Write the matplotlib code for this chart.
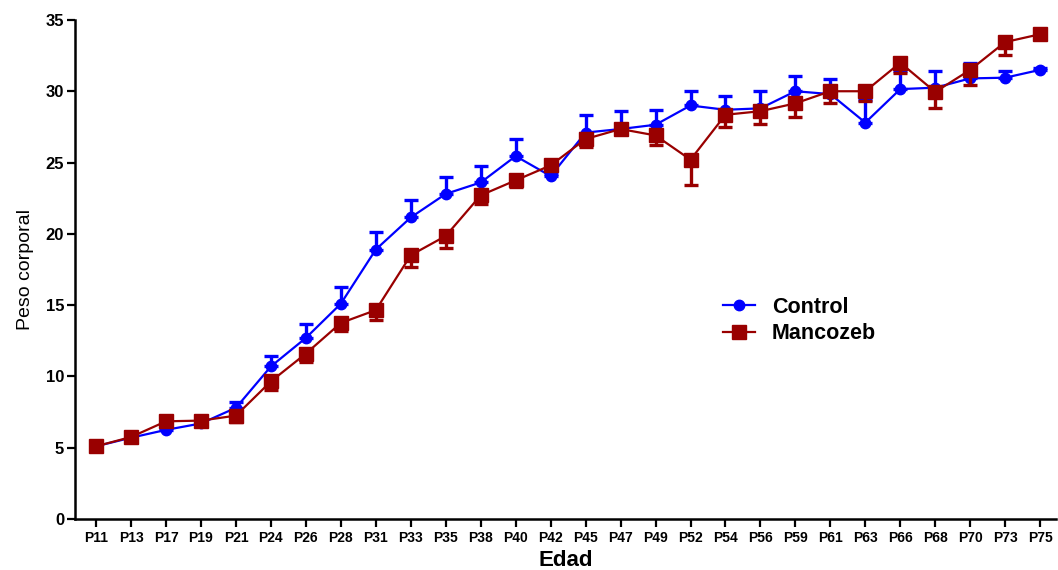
import matplotlib
matplotlib.use("Agg")
import matplotlib.pyplot as plt
from matplotlib.lines import Line2D
import numpy as np

plt.rcParams["font.family"] = ["Liberation Sans", "DejaVu Sans"]

edades = ["P11", "P13", "P17", "P19", "P21", "P24", "P26", "P28", "P31", "P33",
          "P35", "P38", "P40", "P42", "P45", "P47", "P49", "P52", "P54", "P56",
          "P59", "P61", "P63", "P66", "P68", "P70", "P73", "P75"]

control = [5.1, 5.7, 6.25, 6.7, 7.8, 10.7, 12.7, 15.1, 18.9, 21.15,
           22.8, 23.6, 25.45, 24.05, 27.1, 27.35, 27.65, 29.0, 28.7, 28.8,
           30.0, 29.8, 27.8, 30.15, 30.25, 30.9, 30.95, 31.5]
control_sem = [0.15, 0.1, 0.1, 0.1, 0.4, 0.75, 0.95, 1.2, 1.25, 1.25,
               1.2, 1.15, 1.2, 0.15, 1.2, 1.25, 1.0, 1.0, 1.0, 1.2,
               1.05, 1.05, 1.6, 1.3, 1.2, 1.05, 0.5, 0.1]

mancozeb = [5.1, 5.75, 6.85, 6.9, 7.25, 9.65, 11.6, 13.75, 14.65, 18.5,
            19.85, 22.7, 23.75, 24.8, 26.65, 27.35, 26.9, 25.2, 28.35, 28.6,
            29.15, 30.0, 30.0, 32.0, 29.95, 31.5, 33.45, 34.0]
mancozeb_sem = [0.1, 0.1, 0.1, 0.1, 0.45, 0.6, 0.6, 0.55, 0.7, 0.8,
                0.85, 0.6, 0.5, 0.3, 0.55, 0.3, 0.7, 1.8, 0.85, 0.9,
                0.95, 0.85, 0.7, 0.75, 1.1, 1.05, 0.9, 0.1]

azul = "#0000FF"
rojo = "#990000"

fig = plt.figure(figsize=(10.58, 5.70), dpi=100)
ax = fig.add_axes([0.071, 0.0895, 0.927, 0.8755])

x = np.arange(len(edades))
zeros = np.zeros(len(edades))

# control: error bars above, mancozeb: error bars below (like GraphPad)
ax.errorbar(x, control, yerr=[zeros, control_sem], color=azul, marker="o",
            markersize=7.5, linewidth=1.6, elinewidth=2.4, capsize=5, capthick=2.4,
            zorder=2)
ax.errorbar(x, mancozeb, yerr=[mancozeb_sem, zeros], color=rojo, marker="s",
            markersize=9.5, linewidth=1.6, elinewidth=2.4, capsize=5, capthick=2.4,
            zorder=3)

ax.set_xlim(-0.6, 27.45)
ax.set_ylim(0, 35)
ax.set_yticks(np.arange(0, 36, 5))
ax.set_xticks(x)
ax.set_xticklabels(edades)

for s in ["top", "right"]:
    ax.spines[s].set_visible(False)
for s in ["left", "bottom"]:
    ax.spines[s].set_linewidth(1.8)

ax.tick_params(axis="both", direction="out", length=6, width=1.6, color="black")
ax.tick_params(axis="x", labelsize=10, pad=3)
ax.tick_params(axis="y", labelsize=12, pad=2)
for lbl in ax.get_xticklabels() + ax.get_yticklabels():
    lbl.set_fontweight("bold")

ax.set_xlabel("Edad", fontsize=16, fontweight="bold", labelpad=3)
ax.set_ylabel("Peso corporal", fontsize=14, labelpad=8)

handles = [Line2D([], [], color=azul, marker="o", markersize=7.5, linewidth=1.6),
           Line2D([], [], color=rojo, marker="s", markersize=9.5, linewidth=1.6)]
leg = ax.legend(handles, ["Control", "Mancozeb"], loc="center left",
                bbox_to_anchor=(0.661, 0.398), frameon=False,
                fontsize=15.5, handlelength=1.45, handletextpad=0.8, labelspacing=0.25,
                borderpad=0, borderaxespad=0)
for t in leg.get_texts():
    t.set_fontweight("bold")

fig.savefig("out.png", dpi=100)
